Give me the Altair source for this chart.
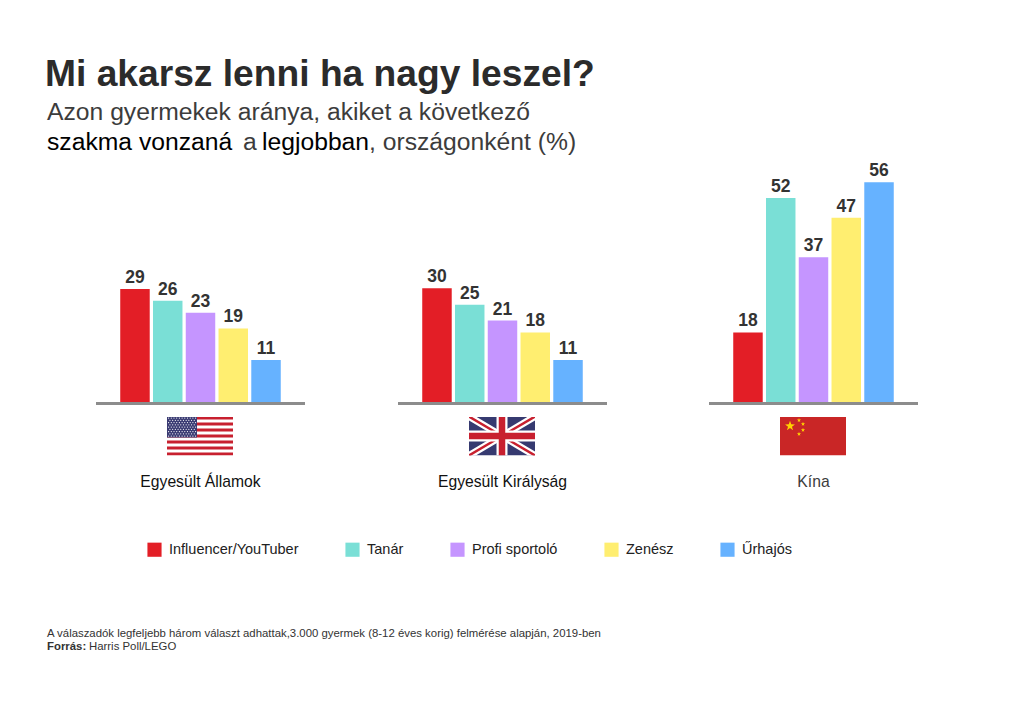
import base64
import math
import altair as alt
import pandas as pd

FONT = "Liberation Sans"
countries = ["Egyesült Államok", "Egyesült Királyság", "Kína"]
professions = ["Influencer/YouTuber", "Tanár", "Profi sportoló", "Zenész", "Űrhajós"]
colors = ["#E31E26", "#7ADFD6", "#C595FF", "#FFEE70", "#66B2FF"]
usa_values = [29, 26, 23, 19, 11]
uk_values = [30, 25, 21, 18, 11]
# the reference draws the UK "30" bar only a little taller than the US "29" bar
uk_bar_heights = [29.2, 25, 21, 18, 11]
china_values = [18, 52, 37, 47, 56]
labels = [usa_values, uk_values, china_values]
heights = [usa_values, uk_bar_heights, china_values]
panel_ranges = [[88, 297], [390, 599], [701, 910]]
title = "Mi akarsz lenni ha nagy leszel?"
subtitle_1 = "Azon gyermekek aránya, akiket a következő"
note_1 = "A válaszadók legfeljebb három választ adhattak,3.000 gyermek (8-12 éves korig) felmérése alapján, 2019-ben"


def usa_flag():
    s = '<svg xmlns="http://www.w3.org/2000/svg" viewBox="0 0 66 39" preserveAspectRatio="none" width="66" height="39"><rect width="66" height="39" fill="#fff"/>'
    for i in range(0, 13, 2):
        s += f'<rect y="{i*3}" width="66" height="3" fill="#C8202F"/>'
    s += '<rect width="30" height="21" fill="#3A3B73"/>'
    for r in range(9):
        for c in range(11 if r % 2 == 0 else 10):
            cx = 1.6 + c * 2.7 + (0 if r % 2 == 0 else 1.35)
            s += f'<circle cx="{cx:.2f}" cy="{1.6 + r*2.25:.2f}" r="0.6" fill="#fff"/>'
    return s + "</svg>"


def uk_flag():
    return ('<svg xmlns="http://www.w3.org/2000/svg" viewBox="0 0 66 39" preserveAspectRatio="none" width="66" height="39">'
            '<rect width="66" height="39" fill="#363A70"/>'
            '<path d="M0 0L66 39M66 0L0 39" stroke="#fff" stroke-width="7"/>'
            '<path d="M0 0L33 19.5M66 39L33 19.5" stroke="#C8202F" stroke-width="2.4"/>'
            '<path d="M66 0L33 19.5M0 39L33 19.5" stroke="#C8202F" stroke-width="2.4"/>'
            '<path d="M33 0V39M0 19.5H66" stroke="#fff" stroke-width="11"/>'
            '<path d="M33 0V39M0 19.5H66" stroke="#C8202F" stroke-width="6.5"/></svg>')


def star(cx, cy, r):
    pts = []
    for i in range(10):
        rr = r if i % 2 == 0 else r * 0.4
        a = -math.pi / 2 + i * math.pi / 5
        pts.append(f"{cx + rr*math.cos(a):.2f},{cy + rr*math.sin(a):.2f}")
    return f'<polygon points="{" ".join(pts)}" fill="#FFD100"/>'


def china_flag():
    return ('<svg xmlns="http://www.w3.org/2000/svg" viewBox="0 0 66 39" preserveAspectRatio="none" width="66" height="39">'
            '<rect width="66" height="39" fill="#C92626"/>'
            + star(10, 9.5, 5.2) + star(19, 3.8, 2.2) + star(23, 7.5, 2.2) + star(23, 13.5, 2.2) + star(19, 17.5, 2.2)
            + "</svg>")


def uri(svg):
    return "data:image/svg+xml;base64," + base64.b64encode(svg.encode()).decode()


flags = [uri(usa_flag()), uri(uk_flag()), uri(china_flag())]
flag_centers = [192, 494, 805]
flag_y = 428

y_scale = alt.Scale(domain=[0, 56], range=[395.5, 174.3])
color_enc = alt.Color(
    "profession:N",
    scale=alt.Scale(domain=professions, range=colors),
    legend=alt.Legend(
        title=None, orient="none", legendX=139, legendY=534, direction="horizontal", columns=5,
        symbolType="square", symbolSize=200, symbolStrokeWidth=0, symbolOpacity=1,
        labelFont=FONT, labelFontSize=14.5, labelColor="#222222", columnPadding=46, labelOffset=7,
        padding=0, labelLimit=200,
    ),
)

layers = []
for country, hs, vals, rng in zip(countries, heights, labels, panel_ranges):
    df = pd.DataFrame({"profession": professions, "height": hs, "value": vals, "country": country})
    band = alt.Scale(type="band", domain=professions, range=rng, paddingInner=0.1, paddingOuter=0.74)
    x_enc = alt.X("profession:N", axis=None, sort=professions, scale=band)
    x_center = alt.X("profession:N", axis=None, sort=professions, scale=band, bandPosition=0.5)
    y_enc = alt.Y("height:Q", axis=None, scale=y_scale)
    base = alt.Chart(df)
    layers.append(base.mark_bar(cornerRadius=0).encode(x=x_enc, y=y_enc, color=color_enc))
    layers.append(
        base.mark_text(font=FONT, fontSize=17.5, fontWeight="bold", color="#333333", baseline="alphabetic", dy=-6)
        .encode(x=x_center, y=y_enc, text="value:Q")
    )

for rng in panel_ranges:
    layers.append(
        alt.Chart(pd.DataFrame({"v": [0]})).mark_rule(color="#8C8C8C", strokeWidth=3).encode(
            x=alt.value(rng[0]), x2=alt.value(rng[1]), y=alt.Y("v:Q", axis=None, scale=y_scale)
        )
    )

for fl, cx in zip(flags, flag_centers):
    layers.append(
        alt.Chart(pd.DataFrame({"url": [fl]})).mark_image(width=66, height=39, aspect=False).encode(
            x=alt.value(cx), y=alt.value(flag_y), url="url:N"
        )
    )


def label(text, x, y, size, color, weight="normal", align="left"):
    return alt.Chart(pd.DataFrame({"t": [text]})).mark_text(
        font=FONT, fontSize=size, fontWeight=weight, color=color, align=align, baseline="alphabetic"
    ).encode(x=alt.value(x), y=alt.value(y), text="t:N")


layers += [
    label(title, 37, 78, 37.2, "#2B2B2B", "bold"),
    label(subtitle_1, 39, 112, 24.7, "#3C3C3C"),
    label("szakma vonzaná", 39, 142, 24.7, "#000000"),
    label("a", 235, 142, 24.7, "#3C3C3C"),
    label("legjobban", 254, 142, 24.7, "#000000"),
    label(", országonként (%)", 361, 142, 24.7, "#3C3C3C"),
    label(countries[0], 192.5, 479, 15.7, "#111111", align="center"),
    label(countries[1], 494.5, 479, 15.7, "#111111", align="center"),
    label(countries[2], 805.5, 479, 15.7, "#3C3C3C", align="center"),
    label(note_1, 39, 629, 11.38, "#333333"),
    label("Forrás:", 39, 642, 11.38, "#333333", "bold"),
    label("Harris Poll/LEGO", 81, 642, 11.38, "#333333"),
]

chart = (
    alt.layer(*layers)
    .resolve_scale(x="independent")
    .properties(width=1008, height=692, padding=0, background="white",
                autosize=alt.AutoSizeParams(type="fit", contains="padding"))
    .configure_view(stroke=None)
)
chart.save("out.html", embed_options={"renderer": "svg", "actions": False})
